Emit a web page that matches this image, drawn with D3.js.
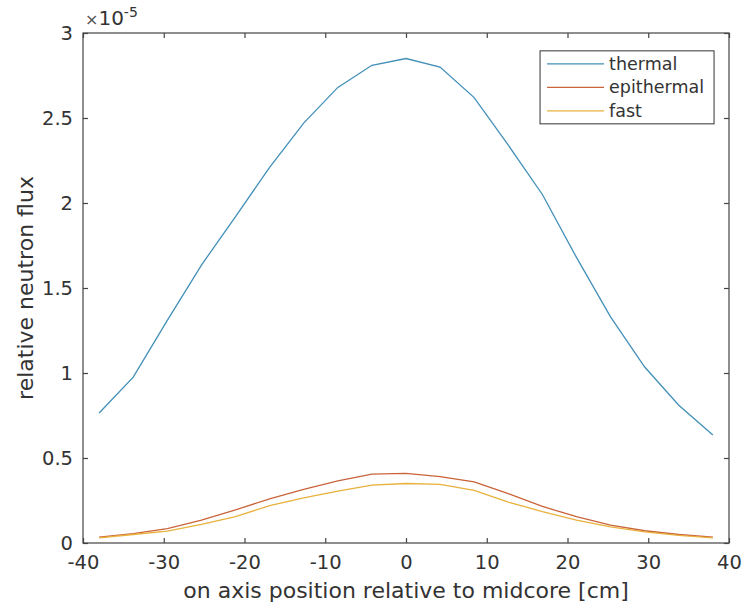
<!DOCTYPE html>
<html>
<head>
<meta charset="utf-8">
<script src="https://cdn.jsdelivr.net/npm/d3@7"></script>
<style>
  body { margin: 0; background: #fff; }
  text { font-family: "DejaVu Sans", sans-serif; fill: #333; }
</style>
</head>
<body>
<div id="chart"></div>
<script>
// data (flux in units of 1e-5)
const positions = [-38, -33.78, -29.56, -25.33, -21.11, -16.89, -12.67, -8.44, -4.22, 0,
  4.22, 8.44, 12.67, 16.89, 21.11, 25.33, 29.56, 33.78, 38];
const thermal = [0.765, 0.976, 1.31, 1.635, 1.92, 2.21, 2.47, 2.68, 2.81, 2.85,
  2.80, 2.62, 2.34, 2.05, 1.68, 1.33, 1.035, 0.81, 0.635];
const epithermal = [0.035, 0.055, 0.085, 0.135, 0.195, 0.26, 0.315, 0.365, 0.405, 0.41,
  0.39, 0.36, 0.29, 0.215, 0.155, 0.105, 0.072, 0.05, 0.035];
const fast = [0.03, 0.05, 0.07, 0.11, 0.155, 0.22, 0.265, 0.305, 0.34, 0.35,
  0.345, 0.31, 0.24, 0.185, 0.135, 0.095, 0.065, 0.045, 0.03];
const seriesNames = ["thermal", "epithermal", "fast"];
const colors = ["#4290b8", "#c9643a", "#e8b13c"];
const xTicks = [-40, -30, -20, -10, 0, 10, 20, 30, 40];
const yTicks = [0, 0.5, 1, 1.5, 2, 2.5, 3];

const svgWidth = 745, svgHeight = 612;
const margin = { top: 33, right: 16, bottom: 69, left: 83 };
const width = svgWidth - margin.left - margin.right;
const height = svgHeight - margin.top - margin.bottom;

const svg = d3.select("#chart").append("svg")
  .attr("width", svgWidth).attr("height", svgHeight);
const g = svg.append("g").attr("transform", `translate(${margin.left},${margin.top})`);

const x = d3.scaleLinear().domain([-40, 40]).range([0, width]);
const y = d3.scaleLinear().domain([0, 3]).range([height, 0]);

//box
g.append("rect").attr("width", width).attr("height", height)
  .attr("fill", "none").attr("stroke", "#444").attr("stroke-width", 1.2);

//axes with inward ticks, plain hyphen minus like matlab
const tickLen = 5;
const plain = d => String(d);
const axBottom = g.append("g").attr("transform", `translate(0,${height})`)
  .call(d3.axisBottom(x).tickValues(xTicks).tickSize(-tickLen).tickPadding(12).tickFormat(plain));
const axTop = g.append("g")
  .call(d3.axisTop(x).tickValues(xTicks).tickSize(-tickLen).tickFormat(""));
const axLeft = g.append("g")
  .call(d3.axisLeft(y).tickValues(yTicks).tickSize(-tickLen).tickPadding(10).tickFormat(plain));
const axRight = g.append("g").attr("transform", `translate(${width},0)`)
  .call(d3.axisRight(y).tickValues(yTicks).tickSize(-tickLen).tickFormat(""));

[axBottom, axTop, axLeft, axRight].forEach(a => {
  a.select(".domain").remove();
  a.selectAll("line").attr("stroke", "#444").attr("stroke-width", 1.2);
  a.selectAll("text").attr("font-size", 19.5).attr("font-family", "DejaVu Sans, sans-serif").attr("fill", "#333");
});

//lines
const lineGen = d3.line().x((d, i) => x(positions[i])).y(d => y(d));
[thermal, epithermal, fast].forEach((s, i) => {
  g.append("path").datum(s)
    .attr("d", lineGen)
    .attr("fill", "none")
    .attr("stroke", colors[i])
    .attr("stroke-width", 1.3);
});

//legend
const legend = g.append("g").attr("transform", `translate(${x(16.6)},${y(2.895)})`);
legend.append("rect").attr("width", 174).attr("height", 73)
  .attr("fill", "#fff").attr("stroke", "#333").attr("stroke-width", 1);
seriesNames.forEach((name, i) => {
  const yy = 13 + i * 23.5;
  legend.append("line").attr("x1", 7).attr("x2", 64).attr("y1", yy).attr("y2", yy)
    .attr("stroke", colors[i]).attr("stroke-width", 1.3);
  legend.append("text").attr("x", 69).attr("y", yy + 6)
    .attr("font-size", 17.5).text(name);
});

//exponent label
const expo = svg.append("text").attr("x", margin.left + 2).attr("y", 25).attr("font-size", 20);
expo.append("tspan").attr("font-size", 16).attr("fill", "#555").text("\u00d7");
expo.append("tspan").text("10");
expo.append("tspan").attr("font-size", 14).attr("dy", -8).text("-5");

//axis labels
svg.append("text")
  .attr("x", margin.left + width / 2).attr("y", 598)
  .attr("text-anchor", "middle").attr("font-size", 22)
  .text("on axis position relative to midcore [cm]");

svg.append("text")
  .attr("transform", `translate(33,${margin.top + height / 2}) rotate(-90)`)
  .attr("text-anchor", "middle").attr("font-size", 22)
  .text("relative neutron flux");
</script>
</body>
</html>
